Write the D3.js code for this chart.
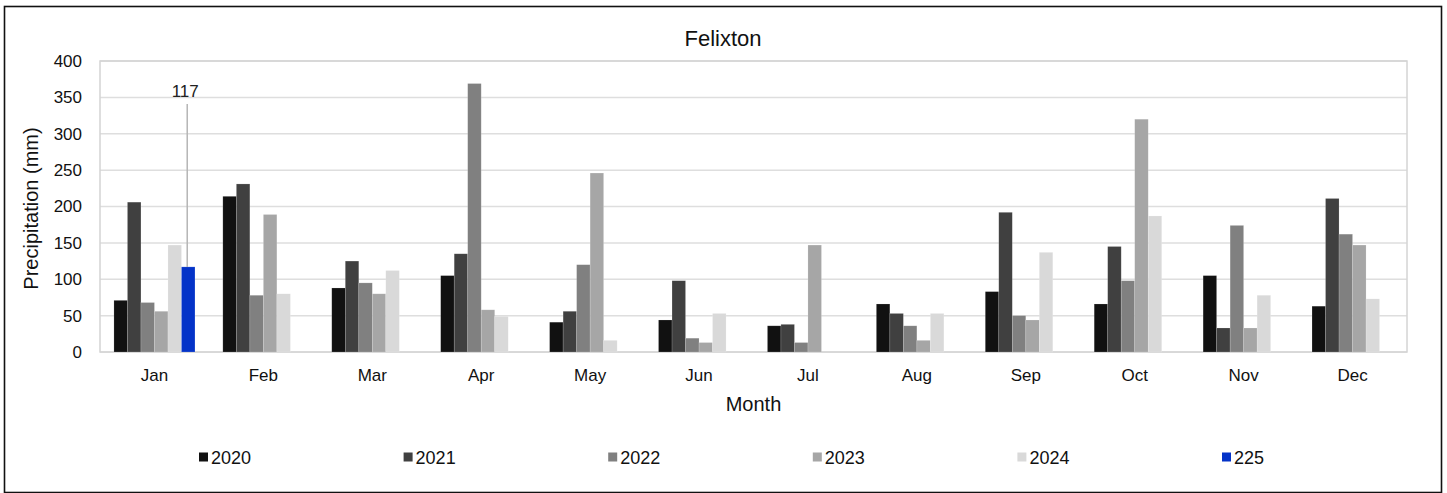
<!DOCTYPE html>
<html>
<head>
<meta charset="utf-8">
<script src="https://cdn.jsdelivr.net/npm/d3@7"></script>
<style>
  html, body { margin: 0; padding: 0; background: #fff; }
  svg { display: block; font-family: "Liberation Sans", Arial, sans-serif; }
</style>
</head>
<body>
<svg id="chart" width="1447" height="493"></svg>
<script>
// Monthly precipitation at Felixton, one series per year
const months = ["Jan","Feb","Mar","Apr","May","Jun","Jul","Aug","Sep","Oct","Nov","Dec"];
const seriesNames = ["2020","2021","2022","2023","2024","225"];
const seriesColors = ["#111111","#404040","#808080","#a6a6a6","#d9d9d9","#0433c8"];
const p2020 = [71, 214, 88, 105, 41, 44, 36, 66, 83, 66, 105, 63];
const p2021 = [206, 231, 125, 135, 56, 98, 38, 53, 192, 145, 33, 211];
const p2022 = [68, 78, 95, 369, 120, 19, 13, 36, 50, 98, 174, 162];
const p2023 = [56, 189, 80, 58, 246, 13, 147, 16, 44, 320, 33, 147];
const p2024 = [147, 80, 112, 49, 16, 53, null, 53, 137, 187, 78, 73];
const p2025 = [117, null, null, null, null, null, null, null, null, null, null, null];
const yTicks = [0, 50, 100, 150, 200, 250, 300, 350, 400];
const seriesValues = [p2020, p2021, p2022, p2023, p2024, p2025];

const svg = d3.select("#chart");
const plot = { left: 100, right: 1407, top: 61, bottom: 352 };

// outer frame
svg.append("rect")
  .attr("x", 4.5).attr("y", 6.5).attr("width", 1437).attr("height", 486)
  .attr("fill", "#fff").attr("stroke", "#111").attr("stroke-width", 1.6);

const x0 = d3.scaleBand().domain(months)
  .range([plot.left, plot.right]).paddingInner(0.256).paddingOuter(0.128);
const x1 = d3.scaleBand().domain(seriesNames).range([0, x0.bandwidth()]);
const y = d3.scaleLinear().domain([0, 400]).range([plot.bottom, plot.top]);

// gridlines
svg.append("g").selectAll("line").data(yTicks).join("line")
  .attr("x1", plot.left).attr("x2", plot.right)
  .attr("y1", d => y(d)).attr("y2", d => y(d))
  .attr("stroke", "#dedede").attr("stroke-width", 1.5);

// plot area outline
svg.append("rect")
  .attr("x", plot.left).attr("y", plot.top)
  .attr("width", plot.right - plot.left).attr("height", plot.bottom - plot.top)
  .attr("fill", "none").attr("stroke", "#d4d4d4").attr("stroke-width", 1.5);

// bars
const rows = [];
seriesValues.forEach((vals, si) => {
  vals.forEach((v, mi) => {
    if (v != null) rows.push({ month: months[mi], series: seriesNames[si], color: seriesColors[si], value: v });
  });
});
svg.append("g").selectAll("rect").data(rows).join("rect")
  .attr("x", d => x0(d.month) + x1(d.series))
  .attr("width", x1.bandwidth())
  .attr("y", d => y(d.value))
  .attr("height", d => y(0) - y(d.value))
  .attr("fill", d => d.color)
  .attr("stroke", "rgba(255,255,255,0.25)").attr("stroke-width", 0.6);

// y axis labels
const yAxis = svg.append("g").attr("transform", `translate(${plot.left},0)`)
  .call(d3.axisLeft(y).tickValues(yTicks).tickSize(0).tickPadding(18));
yAxis.select(".domain").remove();
yAxis.selectAll("text").attr("font-size", 17).attr("fill", "#111")
  .attr("font-family", "Liberation Sans, Arial, sans-serif");

// x axis labels
const xAxis = svg.append("g").attr("transform", `translate(0,${plot.bottom})`)
  .call(d3.axisBottom(x0).tickSize(0).tickPadding(17));
xAxis.select(".domain").remove();
xAxis.selectAll("text").attr("font-size", 17).attr("fill", "#111")
  .attr("font-family", "Liberation Sans, Arial, sans-serif");

// value label for the 2025 January bar with a leader line
const lblMonth = months[0], lblSeries = seriesNames[5], lblValue = p2025[0];
const lx = x0(lblMonth) + x1(lblSeries) + x1.bandwidth() / 2 - 1;
svg.append("line")
  .attr("x1", lx).attr("x2", lx)
  .attr("y1", 104).attr("y2", y(lblValue))
  .attr("stroke", "#b5b5b5").attr("stroke-width", 1.5);
svg.append("text")
  .attr("x", lx - 2).attr("y", 97)
  .attr("text-anchor", "middle").attr("font-size", 17).attr("fill", "#222")
  .text(lblValue);

// titles
svg.append("text").attr("x", 723).attr("y", 46)
  .attr("text-anchor", "middle").attr("font-size", 22).attr("fill", "#111")
  .text("Felixton");
svg.append("text").attr("x", (plot.left + plot.right) / 2).attr("y", 411)
  .attr("text-anchor", "middle").attr("font-size", 20).attr("fill", "#111")
  .text("Month");
svg.append("text")
  .attr("transform", `translate(38,${(plot.top + plot.bottom) / 2 + 2}) rotate(-90)`)
  .attr("text-anchor", "middle").attr("font-size", 20).attr("fill", "#111")
  .text("Precipitation (mm)");

// legend
const legend = svg.append("g").selectAll("g").data(seriesNames).join("g")
  .attr("transform", (d, i) => `translate(${199 + i * 204.6},457)`);
legend.append("rect")
  .attr("x", 0).attr("y", -4.5).attr("width", 9).attr("height", 9)
  .attr("fill", (d, i) => seriesColors[i]);
legend.append("text")
  .attr("x", 12).attr("y", 7)
  .attr("font-size", 18).attr("fill", "#111")
  .text(d => d);
</script>
</body>
</html>
